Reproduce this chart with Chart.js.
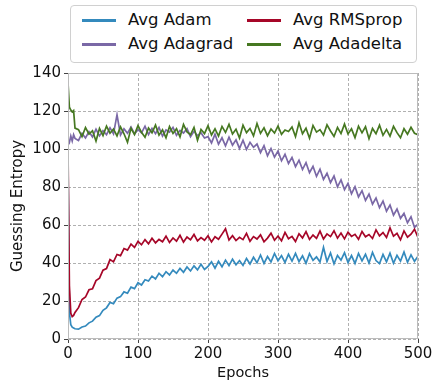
<!DOCTYPE html>
<html>
<head>
<meta charset="utf-8">
<script src="https://cdn.jsdelivr.net/npm/chart.js@4"></script>
<style>
	body { margin: 0; background: #fff; }
	#wrap { position: relative; width: 439px; height: 385px; }
	#legend { position: absolute; left: 70px; top: 5px; width: 345px; height: 56px;
		border: 1px solid #d0d0d0; border-radius: 4px; background: #fff;
		font-family: "DejaVu Sans", sans-serif; font-size: 16.5px; color: #111; }
	.item { position: absolute; height: 20px; line-height: 20px; white-space: nowrap; }
	.item span.sw { display: inline-block; width: 34px; height: 3px; vertical-align: middle; margin-right: 12px; }
</style>
</head>
<body>
<div id="wrap">
	<canvas id="myChart" width="439" height="385"></canvas>
	<div id="legend"></div>
</div>
<script>
let epochs = [0, 2, 4, 6, 8, 10,
	15, 20, 25, 30, 35, 40, 45, 50, 55, 60, 65, 70, 75, 80, 85, 90, 95, 100,
	105, 110, 115, 120, 125, 130, 135, 140, 145, 150, 155, 160, 165, 170, 175, 180, 185, 190, 195, 200,
	205, 210, 215, 220, 225, 230, 235, 240, 245, 250, 255, 260, 265, 270, 275, 280, 285, 290, 295, 300,
	305, 310, 315, 320, 325, 330, 335, 340, 345, 350, 355, 360, 365, 370, 375, 380, 385, 390, 395, 400,
	405, 410, 415, 420, 425, 430, 435, 440, 445, 450, 455, 460, 465, 470, 475, 480, 485, 490, 495, 500];

let adam = [95, 14, 7.5, 6.2, 5.8, 5.4,
	5.2, 6.3, 6.8, 8.5, 9.4, 11.5, 12.3, 15.1, 16.4, 19.2, 18.6, 21.5, 22.3, 24.8, 24.1, 27.3, 26.5, 29.6,
	28.4, 31.2, 30.5, 33.1, 31.6, 34.6, 32.8, 35.4, 33.7, 36.3, 34.6, 37.2, 35.1, 37.9, 35.8, 38.5, 36.4, 39.3, 36.6, 38.2,
	40.6, 37.3, 40.9, 38.0, 41.5, 38.6, 42.0, 39.1, 41.3, 38.7, 42.4, 39.5, 43.0, 40.1, 44.2, 39.8, 43.4, 40.6, 45.0, 41.2,
	43.9, 40.3, 44.6, 41.0, 45.1, 40.7, 43.8, 39.9, 44.9, 41.4, 43.2, 40.5, 48.2, 40.8, 45.3, 39.6, 44.0, 41.5, 45.4, 40.2,
	43.9, 39.8, 45.0, 41.1, 44.6, 40.0, 45.6, 41.3, 39.7, 44.5, 40.6, 45.2, 39.9, 44.0, 41.0, 45.8, 40.4, 44.3, 40.9, 43.5];

let adagrad = [105, 103.5, 106.8, 104.2, 107.5, 105.6,
	104.5, 108.2, 105.8, 109.1, 106.3, 110.4, 106.9, 109.7, 107.5, 111.2, 108.0, 118.0, 107.4, 110.6, 108.3, 111.5, 107.9, 110.2,
	108.5, 112.0, 107.6, 110.9, 108.1, 111.3, 106.8, 110.0, 108.9, 111.4, 107.2, 109.8, 108.4, 110.7, 106.5, 109.3, 107.0, 108.6, 105.8, 106.5,
	103.2, 107.8, 102.5, 105.9, 101.7, 106.2, 102.0, 104.8, 100.3, 104.6, 99.8, 103.5, 100.9, 102.6, 98.1, 101.8, 96.4, 100.2, 95.7, 98.9,
	93.8, 97.2, 92.4, 95.6, 90.7, 94.1, 89.2, 92.8, 87.5, 90.9, 85.6, 89.4, 84.0, 87.2, 82.3, 85.8, 80.1, 83.7, 78.6, 81.9,
	76.4, 80.2, 74.8, 78.0, 72.9, 76.3, 71.0, 74.2, 69.1, 72.6, 67.3, 70.5, 65.2, 68.4, 63.5, 66.1, 61.2, 64.3, 58.7, 60.5];

let rmsprop = [100, 28, 13.5, 11.8, 12.4, 14.0,
	16.5, 20.8, 22.1, 25.9, 26.4, 30.7, 32.0, 36.2, 37.1, 41.8, 40.6, 44.5, 43.9, 47.6, 46.8, 49.9, 48.2, 51.4,
	49.6, 52.3, 50.1, 53.0, 50.6, 52.4, 51.2, 54.1, 50.8, 53.2, 51.5, 54.6, 51.0, 53.7, 52.2, 55.0, 51.6, 53.4, 52.0, 54.3,
	51.1, 53.8, 52.5, 55.2, 58.0, 52.1, 54.4, 51.8, 53.5, 52.3, 55.6, 51.4, 53.9, 52.6, 54.8, 51.2, 53.1, 55.7, 52.0, 54.2,
	51.7, 56.1, 52.8, 54.0, 51.3, 55.4, 53.2, 56.5, 52.4, 54.7, 53.0, 56.8, 52.6, 55.3, 53.9, 57.0, 53.1, 55.8, 52.7, 56.2,
	54.0, 55.1, 52.5, 56.6, 53.8, 55.0, 52.9, 57.4, 54.3, 56.0, 53.4, 58.5, 54.1, 55.6, 52.2, 56.9, 53.6, 55.2, 57.8, 53.5];

let adadelta = [135, 122, 120.5, 119.5, 120.2, 111.0,
	110.2, 106.5, 111.3, 107.8, 109.6, 104.2, 110.8, 107.1, 112.0, 108.3, 110.5, 106.9, 111.7, 108.0, 103.5, 110.9, 107.6, 112.3,
	108.8, 106.2, 111.0, 108.5, 112.6, 107.3, 110.1, 105.9, 111.8, 108.2, 110.7, 106.4, 112.9, 109.0, 107.5, 111.4, 104.6, 110.3, 108.1, 112.2,
	107.4, 110.6, 106.8, 111.9, 108.7, 113.0, 107.9, 110.4, 105.8, 112.5, 108.6, 110.8, 106.9, 113.4, 108.2, 111.1, 107.0, 110.5, 108.4, 112.1,
	107.7, 110.0, 109.2, 111.6, 106.5, 113.8, 108.0, 110.9, 105.7, 112.4, 108.9, 110.2, 107.3, 112.7, 109.5, 106.6, 111.3, 108.1, 113.1, 107.9,
	110.6, 106.0, 112.0, 108.5, 111.7, 105.4, 110.8, 108.0, 112.5, 107.2, 110.3, 106.8, 111.9, 108.6, 105.9, 110.7, 107.8, 111.4, 108.3, 107.5];

let seriesNames = ['Avg Adam', 'Avg Adagrad', 'Avg RMSprop', 'Avg Adadelta'];
let seriesData = [adam, adagrad, rmsprop, adadelta];
let colors = ['#348ABD', '#7A68A6', '#A60628', '#467821'];
let yTicks = [0, 20, 40, 60, 80, 100, 120, 140];
let xTicks = [0, 100, 200, 300, 400, 500];

let datasets = [];
for (let i = 0; i < seriesNames.length; i++) {
	datasets.push({
		label: seriesNames[i],
		data: epochs.map((e, j) => ({x: e, y: seriesData[i][j]})),
		borderColor: colors[i],
		borderWidth: 1.7,
		pointRadius: 0,
		tension: 0,
		fill: false,
		order: seriesNames.length - i
	});
}

// legend laid out like matplotlib's ncol=2 (column first)
let legend = document.getElementById('legend');
let legendPos = [[11, 4], [11, 28], [176, 4], [176, 28]];
for (let i = 0; i < seriesNames.length; i++) {
	let d = document.createElement('div');
	d.className = 'item';
	d.style.left = legendPos[i][0] + 'px';
	d.style.top = legendPos[i][1] + 'px';
	d.innerHTML = '<span class="sw" style="background:' + colors[i] + '"></span>' + seriesNames[i];
	legend.appendChild(d);
}

let frame = {
	id: 'frame',
	afterDraw(chart) {
		let a = chart.chartArea, c = chart.ctx;
		c.save();
		c.strokeStyle = '#bcbcbc';
		c.lineWidth = 1;
		c.strokeRect(a.left + 0.5, a.top + 0.5, a.right - a.left - 1, a.bottom - a.top - 1);
		c.restore();
	}
};

let tickFont = {family: 'DejaVu Sans', size: 15};
let gridOpts = {color: '#b0b0b0', tickColor: '#444', tickLength: 4, tickBorderDash: []};

let ctx = document.getElementById('myChart').getContext('2d');
let myChart = new Chart(ctx, {
	type: 'line',
	data: { datasets: datasets },
	options: {
		responsive: false,
		animation: false,
		layout: { padding: {top: 73, right: 21, left: 0, bottom: 0} },
		plugins: { legend: {display: false}, tooltip: {enabled: false} },
		scales: {
			x: {
				type: 'linear', min: 0, max: 500,
				afterBuildTicks: s => { s.ticks = xTicks.map(v => ({value: v})); },
				afterFit: s => { s.height = 46; },
				ticks: {font: tickFont, color: '#111', padding: 2, maxRotation: 0},
				grid: gridOpts,
				border: {display: false, dash: [3, 2]},
				title: {display: true, text: 'Epochs', color: '#111',
					font: {family: 'DejaVu Sans', size: 14.5}, padding: {top: 0, bottom: 3}}
			},
			y: {
				type: 'linear', min: 0, max: 140,
				afterBuildTicks: s => { s.ticks = yTicks.map(v => ({value: v})); },
				afterFit: s => { s.width = 68; },
				ticks: {font: tickFont, color: '#111', padding: 3},
				grid: gridOpts,
				border: {display: false, dash: [3, 2]},
				title: {display: true, text: 'Guessing Entropy', color: '#111',
					font: {family: 'DejaVu Sans', size: 15}, padding: {top: 9, bottom: 0}}
			}
		}
	},
	plugins: [frame]
});
</script>
</body>
</html>
